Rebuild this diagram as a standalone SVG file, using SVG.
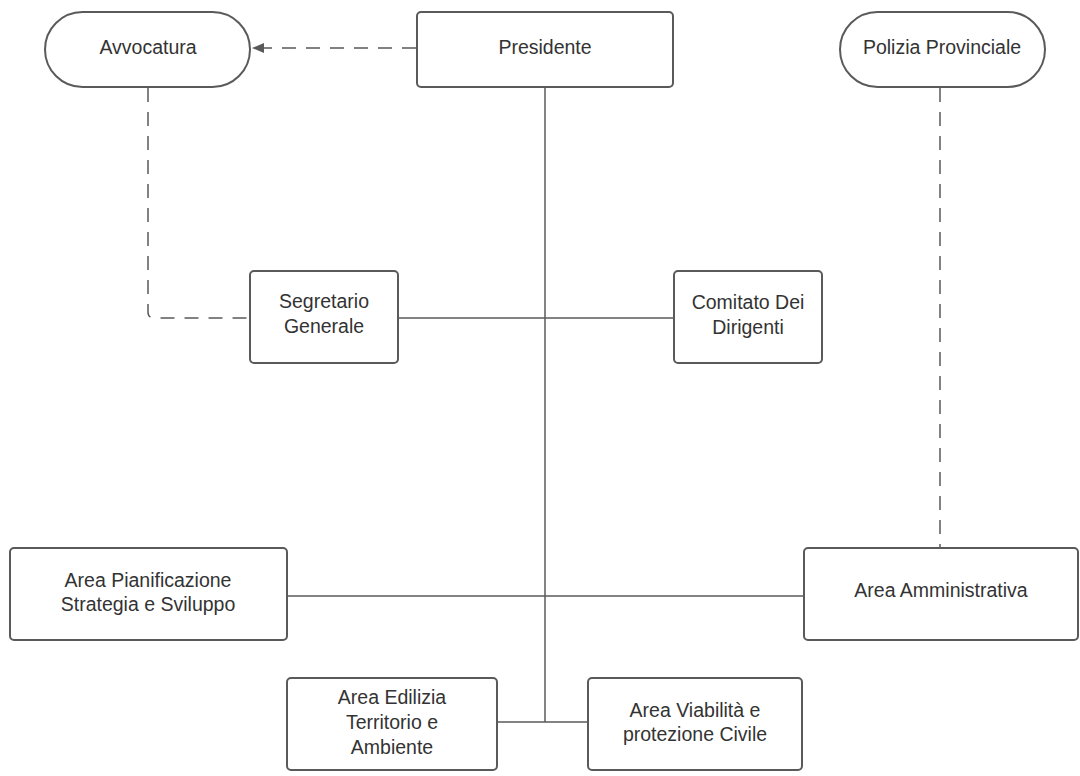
<svg xmlns="http://www.w3.org/2000/svg" width="1080" height="776" viewBox="0 0 1080 776">
<style>
.box{fill:#fff;stroke:#5a5a5a;stroke-width:2}
.t{font-family:"Liberation Sans",Arial,sans-serif;font-size:19.5px;fill:#333;text-anchor:middle}
.ln{fill:none;stroke:#5a5a5a;stroke-width:1.5}
.dash{fill:none;stroke:#5a5a5a;stroke-width:1.5;stroke-dasharray:14 10}
</style>
<defs>
<marker id="ah" markerWidth="12" markerHeight="10" refX="11" refY="5" orient="auto" markerUnits="userSpaceOnUse">
<path d="M0,0 L12,5 L0,10 Z" fill="#5a5a5a"/>
</marker>
</defs>
<rect width="1080" height="776" fill="#fff"/>
<g id="connectors">
<line class="dash" x1="416" y1="48" x2="253" y2="48" marker-end="url(#ah)"/>
<line class="ln" x1="545" y1="87" x2="545" y2="722"/>
<path class="dash" d="M148,88 V312 Q148,318 154,318 H250"/>
<line class="ln" x1="398" y1="318" x2="674" y2="318"/>
<line class="dash" x1="940" y1="88" x2="940" y2="548"/>
<line class="ln" x1="287" y1="596" x2="804" y2="596"/>
<line class="ln" x1="497" y1="722" x2="588" y2="722"/>
</g>
<g id="avvocatura">
<rect class="box" x="45" y="12" width="205" height="75" rx="37.5"/>
<text class="t" x="148" y="54">Avvocatura</text>
</g>
<g id="presidente">
<rect class="box" x="417" y="12" width="256" height="75" rx="4"/>
<text class="t" x="545" y="54">Presidente</text>
</g>
<g id="polizia">
<rect class="box" x="840" y="12" width="205" height="75" rx="37.5"/>
<text class="t" x="942" y="54">Polizia Provinciale</text>
</g>
<g id="segretario">
<rect class="box" x="250" y="271" width="148" height="92" rx="4"/>
<text class="t" x="324" y="308">Segretario</text>
<text class="t" x="324" y="333">Generale</text>
</g>
<g id="comitato">
<rect class="box" x="674" y="271" width="148" height="92" rx="4"/>
<text class="t" x="748" y="309">Comitato Dei</text>
<text class="t" x="748" y="334">Dirigenti</text>
</g>
<g id="pianificazione">
<rect class="box" x="10" y="548" width="277" height="92" rx="4"/>
<text class="t" x="148" y="587">Area Pianificazione</text>
<text class="t" x="148" y="611">Strategia e Sviluppo</text>
</g>
<g id="amministrativa">
<rect class="box" x="804" y="548" width="274" height="92" rx="4"/>
<text class="t" x="941" y="597">Area Amministrativa</text>
</g>
<g id="edilizia">
<rect class="box" x="287" y="678" width="210" height="92" rx="4"/>
<text class="t" x="392" y="704">Area Edilizia</text>
<text class="t" x="392" y="729">Territorio e</text>
<text class="t" x="392" y="754">Ambiente</text>
</g>
<g id="viabilita">
<rect class="box" x="588" y="678" width="214" height="92" rx="4"/>
<text class="t" x="695" y="717">Area Viabilità e</text>
<text class="t" x="695" y="741">protezione Civile</text>
</g>
</svg>
